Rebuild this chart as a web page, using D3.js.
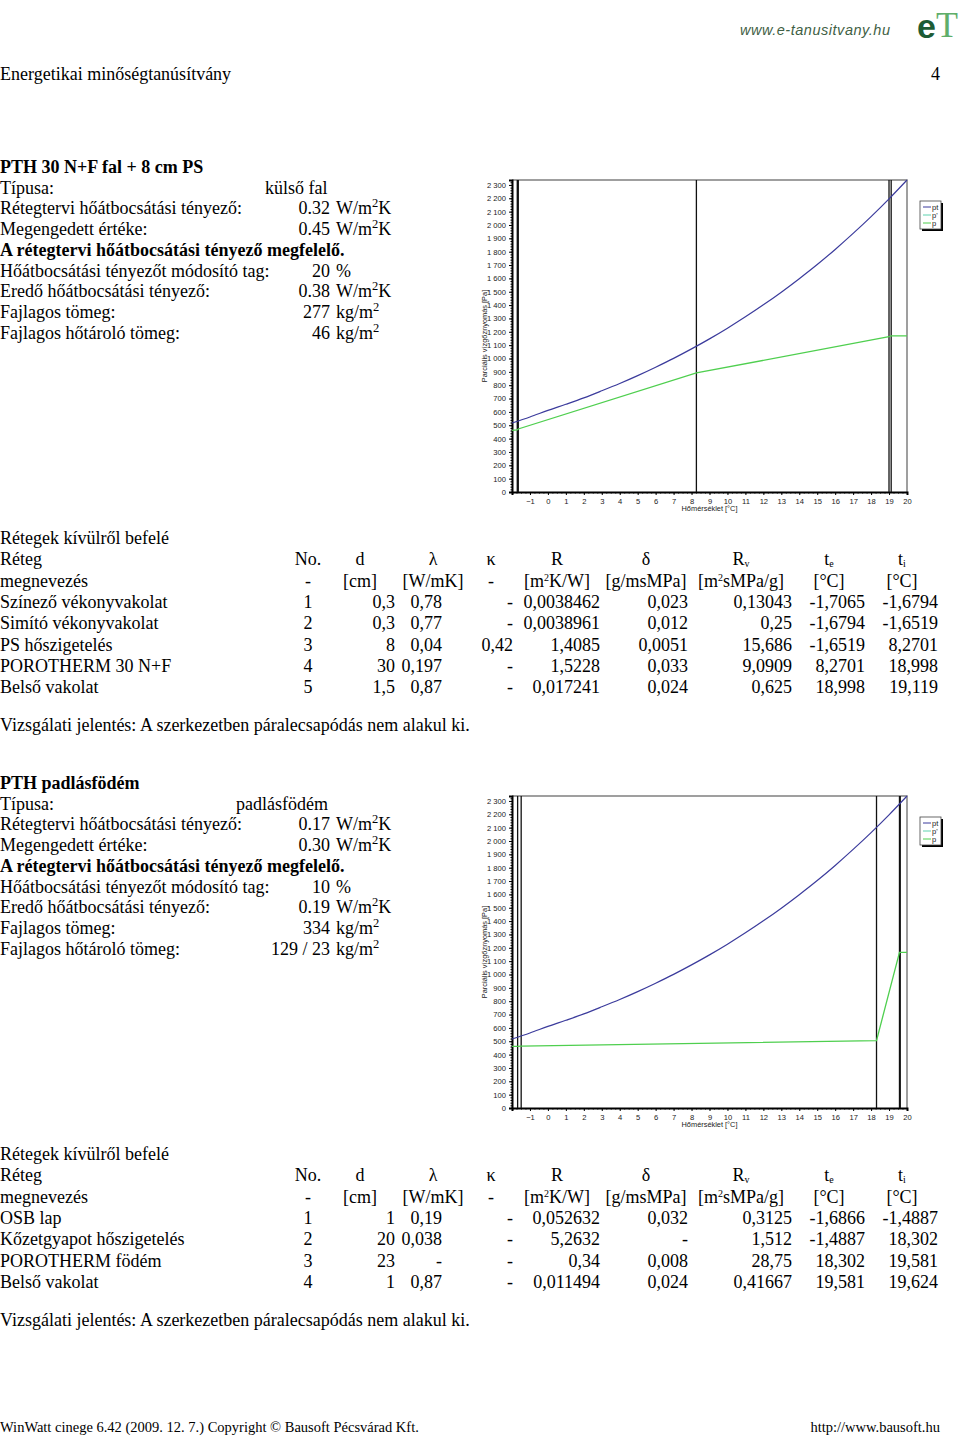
<!DOCTYPE html>
<html><head><meta charset="utf-8">
<script src="https://cdn.jsdelivr.net/npm/d3@7"></script>
<style>
body{margin:0;background:#fff}
svg{display:block}
.serif{font-family:"Liberation Serif","Times New Roman",serif;fill:#000}
.sans{font-family:"Liberation Sans",Arial,sans-serif}
</style>
</head><body>
<svg id="page" width="960" height="1436"></svg>
<script>
// ---------------- DATA ----------------
const tempTicks = d3.range(-1, 21);
const pressureTicks = d3.range(0, 2301, 100);
const legendLabels = ["pt", "p'", "p"];

// saturation pressure pt
const ptTemps  = [-2, -1, 0, 1, 2, 3, 4, 5, 6, 7, 8, 9, 10, 11, 12, 13, 14, 15, 16, 17, 18, 19, 20];
const ptValues = [517, 562, 611, 657, 705, 758, 813, 872, 935, 1001, 1072, 1147, 1227, 1312, 1402, 1497, 1598, 1704, 1817, 1937, 2063, 2196, 2337];

// chart 1 : wall
const wallBoundaries = [-1.7065, -1.6794, -1.6519, 8.2701, 18.998, 19.119];
const wallPTemps  = [-2, -1.7065, -1.6794, -1.6519, 8.2701, 18.998, 19.119, 20];
const wallPValues = [462, 466, 469, 472, 892, 1163, 1170, 1170];

// chart 2 : roof slab
const roofBoundaries = [-1.6866, -1.4887, 18.302, 19.581, 19.624];
const roofPTemps  = [-2, -1.6866, -1.4887, 18.302, 19.581, 19.624, 20];
const roofPValues = [461, 462, 463, 505, 1166, 1166, 1166];

// text blocks
const wallTitle = "PTH 30 N+F fal + 8 cm PS";
const wallInfo = [
  ["Típusa:", "külső fal", ""],
  ["Rétegtervi hőátbocsátási tényező:", "0.32", "W/m|2|K"],
  ["Megengedett értéke:", "0.45", "W/m|2|K"],
  ["A rétegtervi hőátbocsátási tényező megfelelő.", "", ""],
  ["Hőátbocsátási tényezőt módosító tag:", "20", "%"],
  ["Eredő hőátbocsátási tényező:", "0.38", "W/m|2|K"],
  ["Fajlagos tömeg:", "277", "kg/m|2|"],
  ["Fajlagos hőtároló tömeg:", "46", "kg/m|2|"]
];
const roofTitle = "PTH padlásfödém";
const roofInfo = [
  ["Típusa:", "padlásfödém", ""],
  ["Rétegtervi hőátbocsátási tényező:", "0.17", "W/m|2|K"],
  ["Megengedett értéke:", "0.30", "W/m|2|K"],
  ["A rétegtervi hőátbocsátási tényező megfelelő.", "", ""],
  ["Hőátbocsátási tényezőt módosító tag:", "10", "%"],
  ["Eredő hőátbocsátási tényező:", "0.19", "W/m|2|K"],
  ["Fajlagos tömeg:", "334", "kg/m|2|"],
  ["Fajlagos hőtároló tömeg:", "129 / 23", "kg/m|2|"]
];

const tableHeaders = ["Réteg", "No.", "d", "λ", "κ", "R", "δ", "R|v", "t|e", "t|i"];
const tableUnits = ["megnevezés", "-", "[cm]", "[W/mK]", "-", "[m^2K/W]", "[g/msMPa]", "[m^2sMPa/g]", "[°C]", "[°C]"];

const wallLayerNames = ["Színező vékonyvakolat", "Simító vékonyvakolat", "PS hőszigetelés", "POROTHERM 30 N+F", "Belső vakolat"];
const wallLayerValues = [
  ["1", "0,3", "0,78", "-", "0,0038462", "0,023", "0,13043", "-1,7065", "-1,6794"],
  ["2", "0,3", "0,77", "-", "0,0038961", "0,012", "0,25", "-1,6794", "-1,6519"],
  ["3", "8", "0,04", "0,42", "1,4085", "0,0051", "15,686", "-1,6519", "8,2701"],
  ["4", "30", "0,197", "-", "1,5228", "0,033", "9,0909", "8,2701", "18,998"],
  ["5", "1,5", "0,87", "-", "0,017241", "0,024", "0,625", "18,998", "19,119"]
];
const roofLayerNames = ["OSB lap", "Kőzetgyapot hőszigetelés", "POROTHERM födém", "Belső vakolat"];
const roofLayerValues = [
  ["1", "1", "0,19", "-", "0,052632", "0,032", "0,3125", "-1,6866", "-1,4887"],
  ["2", "20", "0,038", "-", "5,2632", "-", "1,512", "-1,4887", "18,302"],
  ["3", "23", "-", "-", "0,34", "0,008", "28,75", "18,302", "19,581"],
  ["4", "1", "0,87", "-", "0,011494", "0,024", "0,41667", "19,581", "19,624"]
];
const reportText = "Vizsgálati jelentés: A szerkezetben páralecsapódás nem alakul ki.";

// ---------------- DRAW ----------------
const svg = d3.select("#page");
const FS = 18;

// header
svg.append("text").attr("class", "sans").attr("x", 740).attr("y", 35)
  .attr("font-size", 14.5).attr("font-style", "italic").attr("fill", "#3f5f45")
  .attr("textLength", 150).text("www.e-tanusitvany.hu");
const logo = svg.append("text").attr("x", 917).attr("y", 38);
logo.append("tspan").attr("font-family", "Liberation Sans, Arial, sans-serif")
  .attr("font-size", 34).attr("font-weight", "bold").attr("fill", "#1d5c35").text("e");
logo.append("tspan").attr("font-family", "Liberation Serif, serif").attr("dy", -1)
  .attr("font-size", 36).attr("fill", "#5fae6a").text("T");
svg.append("text").attr("class", "serif").attr("x", 0).attr("y", 80).attr("font-size", FS)
  .text("Energetikai minőségtanúsítvány");
svg.append("text").attr("class", "serif").attr("x", 940).attr("y", 80).attr("font-size", FS)
  .attr("text-anchor", "end").text("4");

function richText(sel, str) {
  const parts = str.split("|");
  parts.forEach((p, i) => {
    if (p === "") return;
    if (i % 2 === 1) sel.append("tspan").attr("dy", -7).attr("font-size", 12.5).text(p);
    else sel.append("tspan").attr("dy", i > 0 ? 7 : 0).text(p);
  });
}

function infoBlock(top, title, rows, valX) {
  const lh = 20.7;
  svg.append("text").attr("class", "serif").attr("x", 0).attr("y", top + 6)
    .attr("font-size", FS).attr("font-weight", "bold").text(title);
  rows.forEach((r, i) => {
    const y = top + lh * (i + 1) + 6;
    const bold = r[0].startsWith("A réteg");
    svg.append("text").attr("class", "serif").attr("x", 0).attr("y", y)
      .attr("font-size", FS).attr("font-weight", bold ? "bold" : null).text(r[0]);
    if (r[1]) {
      const isType = i === 0;
      const t = svg.append("text").attr("class", "serif").attr("y", y).attr("font-size", FS);
      if (isType) { t.attr("x", valX).text(r[1]); }
      else {
        t.attr("x", 330).attr("text-anchor", "end").text(r[1]);
        const u = svg.append("text").attr("class", "serif").attr("x", 336).attr("y", y).attr("font-size", FS);
        richText(u, r[2]);
      }
    }
  });
}
infoBlock(167, wallTitle, wallInfo, 265);
infoBlock(783, roofTitle, roofInfo, 236);

// tables
const colCenter = [0, 308, 360, 433, 491, 557, 646, 741, 829, 902];
const colRight  = [0, 308, 395, 442, 513, 600, 688, 792, 865, 938];

function headerText(sel, s) {
  if (s.includes("|")) {
    const [a, b] = s.split("|").filter(x => x !== "");
    sel.append("tspan").text(a);
    sel.append("tspan").attr("font-size", 10).attr("dy", 2).text(b);
  } else if (s.includes("^")) {
    const [a, b] = s.split("^");
    sel.append("tspan").text(a);
    sel.append("tspan").attr("font-size", 10).attr("dy", -6).text(b[0]);
    sel.append("tspan").attr("dy", 6).text(b.slice(1));
  } else sel.text(s);
}

function layerTable(top, names, values) {
  const lh = 21.3;
  svg.append("text").attr("class", "serif").attr("x", 0).attr("y", top + 6)
    .attr("font-size", FS).text("Rétegek kívülről befelé");
  [tableHeaders, tableUnits].forEach((row, ri) => {
    const y = top + lh * (ri + 1) + 6;
    row.forEach((h, ci) => {
      const t = svg.append("text").attr("class", "serif").attr("y", y).attr("font-size", FS)
        .attr("x", colCenter[ci]).attr("text-anchor", ci === 0 ? "start" : "middle");
      headerText(t, h);
    });
  });
  names.forEach((n, i) => {
    const y = top + lh * (i + 3) + 6;
    svg.append("text").attr("class", "serif").attr("x", 0).attr("y", y).attr("font-size", FS).text(n);
    values[i].forEach((v, j) => {
      const ci = j + 1;
      svg.append("text").attr("class", "serif").attr("y", y).attr("font-size", FS)
        .attr("x", ci === 1 ? colCenter[1] : colRight[ci])
        .attr("text-anchor", ci === 1 ? "middle" : "end").text(v);
    });
  });
  const ry = top + lh * (names.length + 3) + 23;
  svg.append("text").attr("class", "serif").attr("x", 0).attr("y", ry).attr("font-size", FS).text(reportText);
}
layerTable(538, wallLayerNames, wallLayerValues);
layerTable(1154, roofLayerNames, roofLayerValues);

// footer
svg.append("text").attr("class", "serif").attr("x", 0).attr("y", 1432).attr("font-size", 14.5)
  .text("WinWatt cinege 6.42 (2009. 12. 7.) Copyright © Bausoft Pécsvárad Kft.");
svg.append("text").attr("class", "serif").attr("x", 940).attr("y", 1432).attr("font-size", 14.5)
  .attr("text-anchor", "end").text("http://www.bausoft.hu");

// charts
function chart(top, boundaries, pTemps, pValues) {
  const left = 512, right = 907, bottom = top + 312;
  const x = d3.scaleLinear().domain([-2, 20]).range([left, right]);
  const y = d3.scaleLinear().domain([0, 2337]).range([bottom, top]);
  const g = svg.append("g");
  const tickFont = "Liberation Sans, Arial, sans-serif";

  g.append("path").attr("d", `M${left},${top}H${right}V${bottom}`)
    .attr("fill", "none").attr("stroke", "#808080").attr("stroke-width", 1.5);

  // y axis
  const ya = g.append("g").attr("transform", `translate(${left},0)`)
    .call(d3.axisLeft(y).tickValues(pressureTicks).tickSize(3)
      .tickFormat(d => d3.format(",")(d).replace(",", " ")));
  ya.selectAll("text").attr("font-size", 7.6).attr("font-family", tickFont).attr("fill", "#222");
  ya.select(".domain").attr("stroke", "#000").attr("stroke-width", 2);
  g.append("g").attr("transform", `translate(${left},0)`)
    .call(d3.axisLeft(y).tickValues(d3.range(0, 2337, 20)).tickSize(1.5).tickFormat(""))
    .select(".domain").remove();

  // x axis
  const xa = g.append("g").attr("transform", `translate(0,${bottom})`)
    .call(d3.axisBottom(x).tickValues(tempTicks).tickSize(3).tickFormat(d3.format("d")));
  xa.selectAll("text").attr("font-size", 7.6).attr("font-family", tickFont).attr("fill", "#222").attr("dy", "0.85em");
  xa.select(".domain").attr("stroke", "#000").attr("stroke-width", 2);
  g.append("g").attr("transform", `translate(0,${bottom})`)
    .call(d3.axisBottom(x).tickValues(d3.range(-2, 20.01, 0.25)).tickSize(1.5).tickFormat(""))
    .select(".domain").remove();

  // labels
  g.append("text").attr("class", "sans").attr("font-size", 7.4).attr("fill", "#222")
    .attr("text-anchor", "middle").attr("transform", `translate(${left - 25},${(top + bottom) / 2}) rotate(-90)`)
    .text("Parciális vízgőznyomás [Pa]");
  g.append("text").attr("class", "sans").attr("font-size", 7.4).attr("fill", "#222")
    .attr("text-anchor", "middle").attr("x", x(9)).attr("y", bottom + 19)
    .text("Hőmérséklet [°C]");

  // layer boundaries
  g.selectAll(".bnd").data(boundaries).join("line")
    .attr("x1", d => x(d)).attr("x2", d => x(d)).attr("y1", top).attr("y2", bottom)
    .attr("stroke", "#111").attr("stroke-width", 1.3);

  // curves
  const line = d3.line().x(d => x(d[0])).y(d => y(d[1]));
  g.append("path").datum(ptTemps.map((t, i) => [t, ptValues[i]]))
    .attr("d", line.curve(d3.curveMonotoneX)).attr("fill", "none")
    .attr("stroke", "#3b3b9c").attr("stroke-width", 1.2);
  g.append("path").datum(pTemps.map((t, i) => [t, pValues[i]]))
    .attr("d", d3.line().x(d => x(d[0])).y(d => y(d[1]))).attr("fill", "none")
    .attr("stroke", "#4fcf4f").attr("stroke-width", 1.3);

  // legend
  const lx = 920, ly = top + 21;
  g.append("rect").attr("x", lx + 2).attr("y", ly + 2).attr("width", 21).attr("height", 28).attr("fill", "#000");
  g.append("rect").attr("x", lx).attr("y", ly).attr("width", 21).attr("height", 28)
    .attr("fill", "#fff").attr("stroke", "#444").attr("stroke-width", 0.8);
  const colors = ["#3b3b9c", "#5fd3b0", "#4fcf4f"];
  legendLabels.forEach((l, i) => {
    const yy = ly + 6 + i * 8;
    g.append("line").attr("x1", lx + 3).attr("x2", lx + 11).attr("y1", yy).attr("y2", yy)
      .attr("stroke", colors[i]).attr("stroke-width", 1);
    g.append("text").attr("class", "sans").attr("x", lx + 12).attr("y", yy + 2.8)
      .attr("font-size", 7.6).attr("fill", "#222").text(l);
  });
}
chart(180, wallBoundaries, wallPTemps, wallPValues);
chart(796, roofBoundaries, roofPTemps, roofPValues);
</script>
</body></html>
